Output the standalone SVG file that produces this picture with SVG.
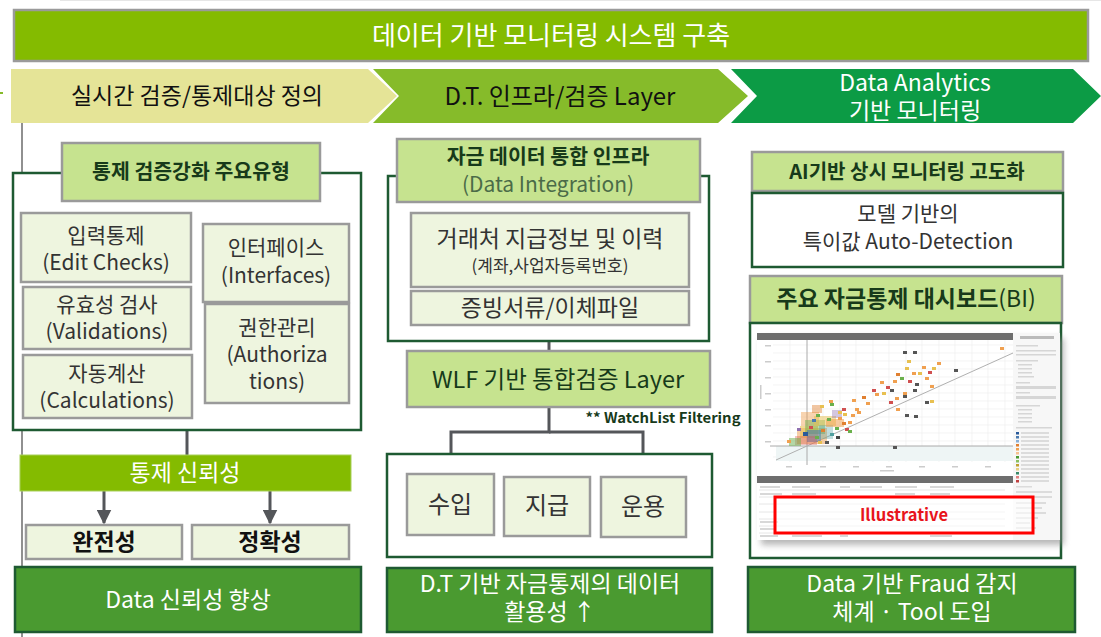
<svg xmlns="http://www.w3.org/2000/svg" width="1101" height="637" viewBox="0 0 1101 637">
<defs>
<style>
text{font-family:"Noto Sans CJK KR","Noto Sans","Liberation Sans",sans-serif;text-anchor:middle}
.hdr{fill:#c6e38f;stroke:#9a9a9a;stroke-width:2.5}
.itm{fill:#eef5df;stroke:#9a9a9a;stroke-width:2.5}
.frm{fill:#fff;stroke:#1e5a32;stroke-width:2.5}
.res{fill:#4a9a30;stroke:#1e5a32;stroke-width:2.5}
.conn{stroke:#54565a;stroke-width:3;fill:none}
.t-h{font-size:20.5px;font-weight:700;fill:#173a1a}
.t-i{font-size:21px;fill:#333}
.t-w{font-size:23px;fill:#fff}
.grid{stroke:#ececec;stroke-width:0.6}
</style>
<marker id="arr" viewBox="0 0 10 10" refX="9" refY="5" markerWidth="5" markerHeight="5" orient="auto" markerUnits="strokeWidth">
<path d="M0,0 L10,5 L0,10 z" fill="#54565a"/>
</marker>
<filter id="sh" x="-10%" y="-10%" width="130%" height="130%">
<feGaussianBlur stdDeviation="3"/>
</filter>
</defs>
<rect width="1101" height="637" fill="#fff"/>
<line x1="60" y1="0.5" x2="1101" y2="0.5" stroke="#e6e6e6"/>
<line x1="0" y1="93" x2="3" y2="93" stroke="#86bb2a" stroke-width="2"/>
<line x1="22" y1="122" x2="22" y2="637" stroke="#6b6b6b" stroke-width="1.5"/>

<g id="title">
<rect x="14" y="10" width="1074" height="51" fill="#84bb00" stroke="#9a9a9a" stroke-width="2.5"/>
<text x="551" y="45" font-size="26" fill="#fff">데이터 기반 모니터링 시스템 구축</text>
</g>

<g id="phase1">
<polygon points="11,69 368,69 397,96 368,123 11,123" fill="#e5e497"/>
<text x="197" y="104" font-size="23" fill="#111">실시간 검증/통제대상 정의</text>
</g>
<g id="phase2">
<polygon points="373,69 718,69 748,96 718,123 373,123 399,96" fill="#86bb2a"/>
<text x="560" y="105" font-size="24" fill="#111">D.T. 인프라/검증 Layer</text>
</g>
<g id="phase3">
<polygon points="731,69 1073,69 1101,96 1073,123 731,123 757,96" fill="#0c9b45"/>
<text x="915" y="91" font-size="23" fill="#fff">Data Analytics</text>
<text x="915" y="119" font-size="23" fill="#fff">기반 모니터링</text>
</g>

<g id="connectors">
<line class="conn" x1="187" y1="430" x2="187" y2="455"/>
<line class="conn" x1="104" y1="491" x2="104" y2="523" marker-end="url(#arr)"/>
<line class="conn" x1="270" y1="491" x2="270" y2="523" marker-end="url(#arr)"/>
<line class="conn" x1="549" y1="341" x2="549" y2="352"/>
<polyline class="conn" points="549,407 549,432 451,432 451,475" marker-end="url(#arr)"/>
<polyline class="conn" points="549,432 643,432 643,476" marker-end="url(#arr)"/>
</g>

<g id="left-frame"><rect class="frm" x="13" y="173" width="348" height="257"/></g>
<g id="left-header">
<rect class="hdr" x="62" y="143" width="258" height="58"/>
<text class="t-h" x="191" y="179">통제 검증강화 주요유형</text>
</g>
<g id="edit-checks">
<rect class="itm" x="21" y="213" width="170" height="69"/>
<text class="t-i" x="106" y="243">입력통제</text>
<text class="t-i" x="106" y="270">(Edit Checks)</text>
</g>
<g id="validations">
<rect class="itm" x="23" y="287" width="168" height="62"/>
<text class="t-i" x="107" y="312">유효성 검사</text>
<text class="t-i" x="107" y="339">(Validations)</text>
</g>
<g id="calculations">
<rect class="itm" x="23" y="355" width="169" height="63"/>
<text class="t-i" x="107" y="381">자동계산</text>
<text class="t-i" x="107" y="408">(Calculations)</text>
</g>
<g id="interfaces">
<rect class="itm" x="203" y="224" width="146" height="78"/>
<text class="t-i" x="276" y="255">인터페이스</text>
<text class="t-i" x="276" y="283">(Interfaces)</text>
</g>
<g id="authorizations">
<rect class="itm" x="205" y="304" width="144" height="99"/>
<text class="t-i" x="277" y="335">권한관리</text>
<text class="t-i" x="277" y="362">(Authoriza</text>
<text class="t-i" x="277" y="389">tions)</text>
</g>
<g id="control-reliability">
<rect x="20" y="455" width="331" height="36" fill="#84bb00" stroke="#a8cf5a" stroke-width="1"/>
<text x="185" y="481" font-size="23" fill="#fff">통제 신뢰성</text>
</g>
<g id="completeness">
<rect class="itm" x="26" y="525" width="156" height="34"/>
<text x="104" y="550" font-size="23" font-weight="700" fill="#111">완전성</text>
</g>
<g id="accuracy">
<rect class="itm" x="192" y="525" width="157" height="34"/>
<text x="270" y="550" font-size="23" font-weight="700" fill="#111">정확성</text>
</g>
<g id="result-left">
<rect class="res" x="15" y="567" width="346" height="65"/>
<text class="t-w" x="188" y="608">Data 신뢰성 향상</text>
</g>

<g id="mid-frame"><rect class="frm" x="388" y="176" width="321" height="165"/></g>
<g id="mid-header">
<rect class="hdr" x="397" y="139" width="303" height="63"/>
<text class="t-h" x="548" y="164">자금 데이터 통합 인프라</text>
<text x="548" y="192" font-size="21" fill="#4b6b48">(Data Integration)</text>
</g>
<g id="payee-info">
<rect class="itm" x="411" y="213" width="278" height="74"/>
<text x="550" y="247" font-size="23" fill="#333">거래처 지급정보 및 이력</text>
<text x="550" y="272" font-size="17" fill="#333">(계좌,사업자등록번호)</text>
</g>
<g id="evidence">
<rect class="itm" x="411" y="291" width="278" height="34"/>
<text x="550" y="316" font-size="23" fill="#333">증빙서류/이체파일</text>
</g>
<g id="wlf-layer">
<rect class="hdr" x="407" y="351" width="303" height="56"/>
<text x="558" y="388" font-size="23.5" fill="#173a1a">WLF 기반 통합검증 Layer</text>
</g>
<text x="663" y="423" font-size="14" font-weight="700" fill="#173a1a" textLength="155" lengthAdjust="spacingAndGlyphs">** WatchList Filtering</text>
<g id="flow-frame"><rect class="frm" x="387" y="454" width="325" height="103"/></g>
<g id="income">
<rect class="itm" x="407" y="474" width="87" height="61"/>
<text x="450" y="513" font-size="24" fill="#333">수입</text>
</g>
<g id="payment">
<rect class="itm" x="504" y="477" width="86" height="59"/>
<text x="547" y="514" font-size="24" fill="#333">지급</text>
</g>
<g id="operation">
<rect class="itm" x="601" y="477" width="85" height="60"/>
<text x="643" y="515" font-size="24" fill="#333">운용</text>
</g>
<g id="result-mid">
<rect class="res" x="387" y="568" width="325" height="64"/>
<text class="t-w" x="550" y="592">D.T 기반 자금통제의 데이터</text>
<text class="t-w" x="550" y="620">활용성 ↑</text>
</g>

<g id="ai-header">
<rect class="hdr" x="752" y="152" width="311" height="39"/>
<text x="907" y="179" font-size="20" font-weight="700" fill="#173a1a">AI기반 상시 모니터링 고도화</text>
</g>
<g id="model-detect">
<rect class="frm" x="752" y="193" width="311" height="74"/>
<text class="t-i" x="908" y="221">모델 기반의</text>
<text class="t-i" x="908" y="249">특이값 Auto-Detection</text>
</g>
<g id="bi-header">
<rect class="hdr" x="750" y="276" width="312" height="47"/>
<text x="906" y="307" font-size="23" fill="#173a1a"><tspan font-weight="700">주요 자금통제 대시보드</tspan><tspan>(BI)</tspan></text>
</g>
<g id="dashboard">
<rect class="frm" x="750" y="323" width="311" height="235"/>
<rect x="761" y="338" width="303" height="207" fill="#888" opacity="0.6" filter="url(#sh)"/>
<rect x="757" y="333" width="303" height="207" fill="#fff"/>
<rect x="757" y="333" width="256" height="7" fill="#6e6e6e"/>
<rect x="1013" y="333" width="47" height="207" fill="#f7f7f7"/>
<g class="grid">
<line x1="773" y1="345" x2="1013" y2="345"/><line x1="773" y1="353" x2="1013" y2="353"/><line x1="773" y1="361" x2="1013" y2="361"/><line x1="773" y1="369" x2="1013" y2="369"/><line x1="773" y1="377" x2="1013" y2="377"/><line x1="773" y1="385" x2="1013" y2="385"/><line x1="773" y1="393" x2="1013" y2="393"/><line x1="773" y1="401" x2="1013" y2="401"/><line x1="773" y1="409" x2="1013" y2="409"/><line x1="773" y1="417" x2="1013" y2="417"/><line x1="773" y1="425" x2="1013" y2="425"/><line x1="773" y1="433" x2="1013" y2="433"/><line x1="773" y1="441" x2="1013" y2="441"/><line x1="773" y1="457" x2="1013" y2="457"/>
<line x1="790" y1="340" x2="790" y2="462"/><line x1="823" y1="340" x2="823" y2="462"/><line x1="840" y1="340" x2="840" y2="462"/><line x1="856" y1="340" x2="856" y2="462"/><line x1="873" y1="340" x2="873" y2="462"/><line x1="889" y1="340" x2="889" y2="462"/><line x1="906" y1="340" x2="906" y2="462"/><line x1="922" y1="340" x2="922" y2="462"/><line x1="939" y1="340" x2="939" y2="462"/><line x1="955" y1="340" x2="955" y2="462"/><line x1="972" y1="340" x2="972" y2="462"/><line x1="988" y1="340" x2="988" y2="462"/><line x1="1005" y1="340" x2="1005" y2="462"/>
</g>
<rect x="776" y="446" width="237" height="15" fill="#eef5f5"/>
<line x1="807" y1="340" x2="807" y2="465" stroke="#aaa" stroke-width="1"/>
<line x1="770" y1="446" x2="1013" y2="446" stroke="#aaa" stroke-width="1"/>
<line x1="776" y1="460" x2="1013" y2="353" stroke="#b0b0b0" stroke-width="1"/>
<g fill="#ccc">
<rect x="765" y="345" width="6" height="1.5"/><rect x="765" y="361" width="6" height="1.5"/><rect x="765" y="377" width="6" height="1.5"/><rect x="765" y="393" width="6" height="1.5"/><rect x="765" y="409" width="6" height="1.5"/><rect x="765" y="425" width="6" height="1.5"/><rect x="765" y="441" width="6" height="1.5"/>
<rect x="786" y="466" width="6" height="1.5"/><rect x="820" y="466" width="6" height="1.5"/><rect x="853" y="466" width="6" height="1.5"/><rect x="886" y="466" width="6" height="1.5"/><rect x="919" y="466" width="6" height="1.5"/><rect x="952" y="466" width="6" height="1.5"/><rect x="985" y="466" width="6" height="1.5"/>
<rect x="760" y="385" width="1.5" height="14"/><rect x="880" y="470" width="14" height="1.5"/>
</g>
<g>
<rect x="797" y="428" width="30" height="16" fill="#f0a050" opacity="0.5"/>
<rect x="800" y="426" width="18" height="12" fill="#e8c050" opacity="0.6"/>
<rect x="801" y="412" width="18" height="14" fill="#f0a050" opacity="0.45"/>
<rect x="805" y="420" width="20" height="14" fill="#6ab04c" opacity="0.45"/>
<rect x="807" y="430" width="14" height="12" fill="#4a7ab0" opacity="0.55"/>
<rect x="814" y="416" width="22" height="10" fill="#e8c050" opacity="0.5"/>
<rect x="795" y="436" width="22" height="9" fill="#d05050" opacity="0.35"/>
<rect x="819" y="425" width="14" height="14" fill="#50a0a0" opacity="0.35"/>
<rect x="826" y="419" width="18" height="8" fill="#f0a050" opacity="0.55"/>
<rect x="789" y="438" width="12" height="8" fill="#6ab04c" opacity="0.5"/>
<rect x="832" y="410" width="10" height="8" fill="#9070b0" opacity="0.4"/>
<rect x="812" y="405" width="10" height="8" fill="#e08030" opacity="0.45"/>
</g>
<g>
<rect x="803" y="432" width="5" height="4" fill="#2a5a9a"/><rect x="809" y="426" width="4" height="3" fill="#d05050"/><rect x="815" y="436" width="4" height="3" fill="#6ab04c"/><rect x="821" y="429" width="4" height="3" fill="#e08030"/><rect x="797" y="428" width="4" height="3" fill="#9070b0"/><rect x="830" y="433" width="4" height="3" fill="#50a0a0"/><rect x="835" y="427" width="4" height="3" fill="#6ab04c"/><rect x="842" y="422" width="4" height="3" fill="#e08030"/><rect x="845" y="428" width="4" height="3" fill="#d05050"/><rect x="827" y="418" width="4" height="3" fill="#6ab04c"/><rect x="838" y="417" width="4" height="3" fill="#f0a050"/><rect x="848" y="421" width="4" height="3" fill="#f0a050"/><rect x="816" y="414" width="4" height="3" fill="#6ab04c"/><rect x="812" y="419" width="4" height="3" fill="#4a7ab0"/><rect x="843" y="413" width="4" height="3" fill="#e8c050"/><rect x="818" y="441" width="4" height="3" fill="#e8c050"/><rect x="787" y="440" width="4" height="3" fill="#f0a050"/><rect x="825" y="441" width="4" height="3" fill="#555"/><rect x="836" y="436" width="4" height="3" fill="#444"/><rect x="830" y="403" width="4" height="3" fill="#6ab04c"/><rect x="851" y="414" width="4" height="3" fill="#f0a050"/><rect x="855" y="408" width="4" height="3" fill="#f0a050"/>
<rect x="820" y="405" width="4" height="3" fill="#e8c050"/><rect x="829" y="400" width="4" height="3" fill="#f0a050"/><rect x="842" y="408" width="4" height="3" fill="#d05050"/><rect x="852" y="399" width="4" height="3" fill="#f0a050"/><rect x="862" y="396" width="4" height="3" fill="#e08030"/><rect x="866" y="402" width="4" height="3" fill="#f0a050"/><rect x="872" y="389" width="4" height="3" fill="#d05050"/><rect x="875" y="393" width="4" height="3" fill="#f0a050"/><rect x="880" y="381" width="4" height="3" fill="#f0a050"/><rect x="882" y="392" width="4" height="3" fill="#e8c050"/><rect x="886" y="386" width="4" height="3" fill="#d05050"/><rect x="890" y="389" width="4" height="3" fill="#555"/><rect x="893" y="380" width="4" height="3" fill="#f0a050"/><rect x="895" y="397" width="4" height="3" fill="#f0a050"/><rect x="896" y="373" width="4" height="3" fill="#e08030"/><rect x="900" y="377" width="4" height="3" fill="#6ab04c"/><rect x="903" y="392" width="4" height="3" fill="#f0a050"/><rect x="905" y="367" width="4" height="3" fill="#e8c050"/><rect x="908" y="380" width="4" height="3" fill="#d05050"/><rect x="912" y="372" width="4" height="3" fill="#f0a050"/><rect x="915" y="383" width="4" height="3" fill="#555"/><rect x="918" y="372" width="4" height="3" fill="#e8c050"/><rect x="922" y="366" width="4" height="3" fill="#f0a050"/><rect x="925" y="377" width="4" height="3" fill="#f0a050"/><rect x="907" y="360" width="4" height="3" fill="#e8c050"/><rect x="903" y="351" width="4" height="3" fill="#555"/><rect x="913" y="351" width="4" height="3" fill="#555"/><rect x="903" y="395" width="4" height="3" fill="#555"/><rect x="913" y="389" width="4" height="3" fill="#555"/><rect x="889" y="401" width="4" height="3" fill="#d05050"/><rect x="896" y="408" width="4" height="3" fill="#f0a050"/><rect x="905" y="414" width="4" height="3" fill="#555"/><rect x="914" y="415" width="4" height="3" fill="#555"/><rect x="925" y="401" width="4" height="3" fill="#555"/><rect x="930" y="385" width="4" height="3" fill="#f0a050"/><rect x="932" y="367" width="4" height="3" fill="#e8c050"/><rect x="937" y="362" width="4" height="3" fill="#f0a050"/><rect x="928" y="371" width="4" height="3" fill="#d05050"/><rect x="954" y="369" width="4" height="3" fill="#555"/><rect x="930" y="400" width="4" height="3" fill="#e8c050"/><rect x="893" y="446" width="4" height="3" fill="#555"/><rect x="836" y="446" width="4" height="3" fill="#555"/><rect x="1000" y="347" width="4" height="3" fill="#f0a050"/><rect x="857" y="411" width="4" height="3" fill="#f0a050"/><rect x="848" y="430" width="4" height="3" fill="#6ab04c"/><rect x="838" y="411" width="4" height="3" fill="#e8c050"/>
</g>
<rect x="757" y="476" width="256" height="7" fill="#6e6e6e"/>
<g stroke="#e0e0e0" stroke-width="0.8">
<line x1="759" y1="490" x2="1005" y2="490"/><line x1="759" y1="497" x2="1005" y2="497"/><line x1="759" y1="504" x2="1005" y2="504"/><line x1="759" y1="512" x2="1005" y2="512"/><line x1="759" y1="519" x2="1005" y2="519"/><line x1="759" y1="526" x2="1005" y2="526"/><line x1="759" y1="533" x2="1005" y2="533"/>
</g>
<g fill="#d8d8d8">
<rect x="760" y="486" width="20" height="2"/><rect x="792" y="486" width="18" height="2"/><rect x="840" y="486" width="10" height="2"/><rect x="860" y="486" width="22" height="2"/><rect x="895" y="486" width="22" height="2"/><rect x="930" y="486" width="24" height="2"/>
<rect x="760" y="493" width="22" height="2"/><rect x="792" y="493" width="24" height="2"/><rect x="895" y="493" width="20" height="2"/><rect x="930" y="493" width="20" height="2"/>
<rect x="760" y="521" width="18" height="2"/><rect x="760" y="528" width="16" height="2"/><rect x="760" y="535" width="18" height="2"/><rect x="792" y="535" width="30" height="2"/><rect x="840" y="535" width="8" height="2"/><rect x="930" y="535" width="22" height="2"/>
</g>
<g fill="#d6d6d6">
<rect x="1020" y="336" width="34" height="3" fill="#bbb"/>
<rect x="1016" y="345" width="22" height="1.5"/><rect x="1016" y="350" width="40" height="1.5"/><rect x="1016" y="354" width="40" height="1.5"/>
<rect x="1016" y="360" width="22" height="1.5"/><rect x="1018" y="364" width="14" height="1.5"/><rect x="1018" y="368" width="14" height="1.5"/><rect x="1018" y="372" width="14" height="1.5"/><rect x="1018" y="376" width="16" height="1.5"/>
<rect x="1016" y="382" width="14" height="1.5"/><rect x="1016" y="386" width="40" height="3"/><rect x="1016" y="392" width="14" height="1.5"/><rect x="1016" y="396" width="40" height="3"/>
<rect x="1016" y="405" width="24" height="1.5"/><rect x="1018" y="409" width="14" height="1.5"/><rect x="1018" y="413" width="14" height="1.5"/><rect x="1018" y="417" width="14" height="1.5"/><rect x="1018" y="421" width="14" height="1.5"/>
<rect x="1016" y="427" width="36" height="1.5"/>
</g>
<g>
<rect x="1016" y="432" width="3" height="2.5" fill="#2a5a9a"/><rect x="1016" y="436" width="3" height="2.5" fill="#4a7ab0"/><rect x="1016" y="440" width="3" height="2.5" fill="#8ab0d8"/><rect x="1016" y="444" width="3" height="2.5" fill="#e08030"/><rect x="1016" y="448" width="3" height="2.5" fill="#f0a050"/><rect x="1016" y="452" width="3" height="2.5" fill="#f5c090"/><rect x="1016" y="456" width="3" height="2.5" fill="#4a9a30"/><rect x="1016" y="460" width="3" height="2.5" fill="#8ac060"/><rect x="1016" y="464" width="3" height="2.5" fill="#c0a030"/><rect x="1016" y="468" width="3" height="2.5" fill="#e8d080"/><rect x="1016" y="472" width="3" height="2.5" fill="#3a8a6a"/><rect x="1016" y="476" width="3" height="2.5" fill="#e08080"/><rect x="1016" y="480" width="3" height="2.5" fill="#c04040"/>
</g>
<g fill="#dcdcdc">
<rect x="1021" y="432" width="28" height="2"/><rect x="1021" y="436" width="28" height="2"/><rect x="1021" y="440" width="28" height="2"/><rect x="1021" y="444" width="28" height="2"/><rect x="1021" y="448" width="28" height="2"/><rect x="1021" y="452" width="28" height="2"/><rect x="1021" y="456" width="28" height="2"/><rect x="1021" y="460" width="28" height="2"/><rect x="1021" y="464" width="28" height="2"/><rect x="1021" y="468" width="28" height="2"/><rect x="1021" y="472" width="28" height="2"/><rect x="1021" y="476" width="28" height="2"/><rect x="1021" y="480" width="28" height="2"/>
<rect x="1016" y="486" width="16" height="1.5"/><rect x="1016" y="491" width="36" height="2"/><rect x="1016" y="496" width="36" height="2"/><rect x="1016" y="502" width="30" height="2"/><rect x="1016" y="507" width="26" height="2"/><rect x="1016" y="512" width="30" height="2"/><rect x="1016" y="517" width="22" height="2"/><rect x="1016" y="522" width="14" height="2"/><rect x="1016" y="527" width="20" height="2"/><rect x="1016" y="532" width="18" height="2"/>
</g>
</g>
<g id="illustrative">
<rect x="775" y="497" width="258" height="36" fill="#fff" fill-opacity="0.6" stroke="#f00" stroke-width="3"/>
<text x="904" y="521" font-size="16.5" font-weight="700" fill="#e8141c" font-family="'Noto Sans','Liberation Sans',sans-serif">Illustrative</text>
</g>
<g id="result-right">
<rect class="res" x="748" y="567" width="327" height="65"/>
<text class="t-w" x="912" y="592">Data 기반 Fraud 감지</text>
<text class="t-w" x="912" y="620">체계 · Tool 도입</text>
</g>
</svg>
